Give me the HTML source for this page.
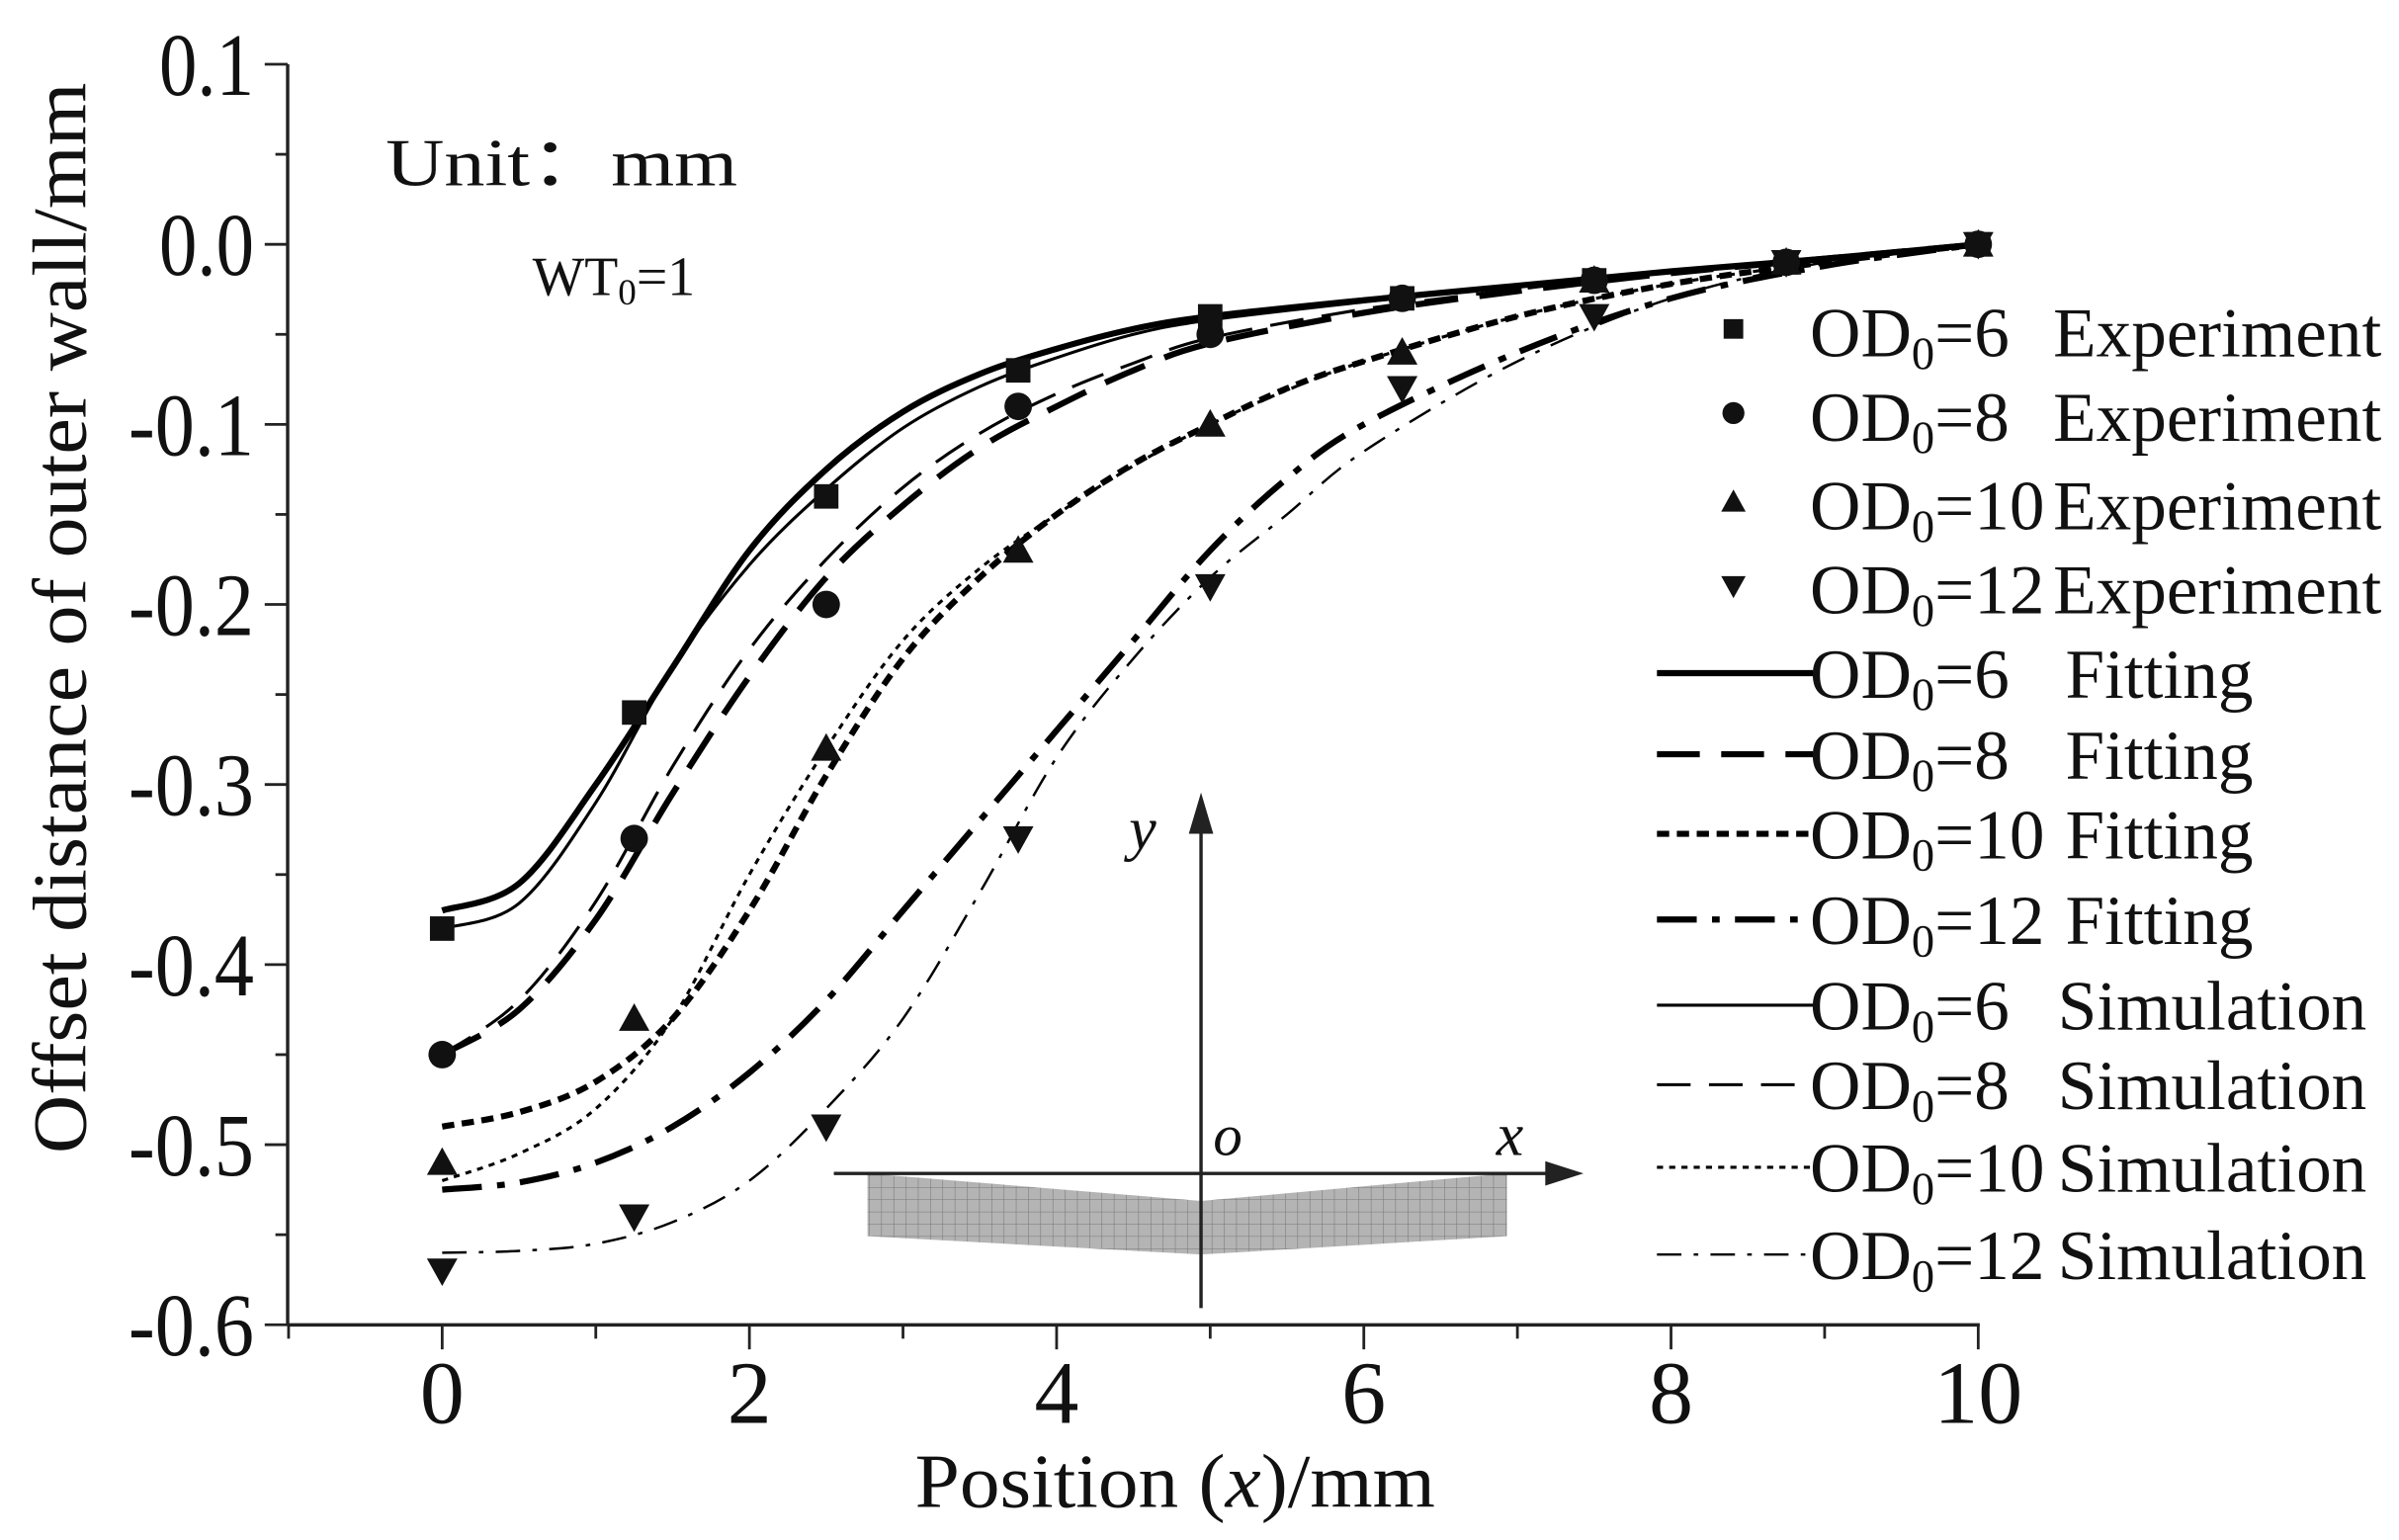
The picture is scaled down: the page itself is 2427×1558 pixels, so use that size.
<!DOCTYPE html>
<html><head><meta charset="utf-8"><style>html,body{margin:0;padding:0;background:#fff}svg{display:block}svg text{font-family:"Liberation Serif","Times New Roman",serif}</style></head>
<body>
<svg id="s" width="2427" height="1558" viewBox="0 0 1568 1006.6" xmlns="http://www.w3.org/2000/svg" fill="#111">
<defs>
<pattern id="mesh" width="8" height="8" patternUnits="userSpaceOnUse">
<rect width="8" height="8" fill="#b4b4b4"/><path d="M0 0H8M0 0V8" stroke="#777" stroke-width="0.7"/>
</pattern>
</defs>
<g id="axes" stroke="#222" stroke-width="2.2" fill="none">
<line x1="188" y1="42" x2="188" y2="866"/>
<line x1="188" y1="866" x2="1294" y2="866"/>
</g>
<g id="ticks" stroke="#222" stroke-width="1.8"></g>
<g font-size="58" id="ylab"></g>
<g font-size="58" id="xlab"></g>
<text x="0" y="0" font-size="50" transform="translate(56,404) rotate(-90)" text-anchor="middle" textLength="700" lengthAdjust="spacingAndGlyphs">Offset distance of outer wall/mm</text>
<text x="768" y="985" font-size="50" text-anchor="middle" textLength="340" lengthAdjust="spacingAndGlyphs">Position (<tspan font-style="italic">x</tspan>)/mm</text>
<text x="252" y="121" font-size="44" textLength="230" lengthAdjust="spacingAndGlyphs">Unit：mm</text>
<text x="348" y="193" font-size="36">WT<tspan font-size="24" dy="6">0</tspan><tspan dy="-6">=1</tspan></text>
<path d="M567 767 L785 785 L985 767 L985 808 L785 820 L567 808 Z" fill="url(#mesh)"/>
<g stroke="#222" stroke-width="2.2">
<line x1="545" y1="767" x2="1015" y2="767"/>
<line x1="785" y1="855" x2="785" y2="540"/>
</g>
<path d="M1035 767 L1010 759 L1010 775 Z" fill="#222"/>
<path d="M785 518 L777 545 L793 545 Z" fill="#222"/>
<text x="738" y="555" font-size="40" font-style="italic">y</text>
<text x="793" y="755" font-size="38" font-style="italic">o</text>
<text x="978" y="755" font-size="40" font-style="italic">x</text>
<g id="curves" fill="none" stroke="#000"></g>
<g id="marks"></g>
<g id="legend" font-size="46"></g>
</svg>
<script>
const NS="http://www.w3.org/2000/svg";
const X=x=>289+100.4*x, Y=v=>159.7-v*1177;
function el(p,t,a,txt){const e=document.createElementNS(NS,t);for(const k in a)e.setAttribute(k,a[k]);if(txt!==undefined)e.textContent=txt;p.appendChild(e);return e;}
const tk=document.getElementById('ticks');
for(let i=0;i<=14;i++){const v=0.1-i*0.05,y=Y(v),maj=i%2==0;el(tk,'line',{x1:188-(maj?15:8),y1:y,x2:188,y2:y});}
for(let i=-1;i<=10;i++){const x=X(i),maj=i%2==0;el(tk,'line',{x1:x,y1:866,x2:x,y2:866+(maj?16:9)});}
const yl=document.getElementById('ylab');
['0.1','0.0','-0.1','-0.2','-0.3','-0.4','-0.5','-0.6'].forEach((t,i)=>{el(yl,'text',{x:166,y:Y(0.1-i*0.1)+20,'text-anchor':'end',textLength:t.length==3?62:82,lengthAdjust:'spacingAndGlyphs'},t);});
const xl=document.getElementById('xlab');
[0,2,4,6,8,10].forEach(v=>el(xl,'text',{x:X(v),y:930,'text-anchor':'middle'},String(v)));
function path(pts){const P=pts.map(p=>[X(p[0]),Y(p[1])]);let d='M'+P[0];for(let i=0;i<P.length-1;i++){const p0=P[i-1]||P[i],p1=P[i],p2=P[i+1],p3=P[i+2]||P[i+1];d+=` C${p1[0]+(p2[0]-p0[0])/6},${p1[1]+(p2[1]-p0[1])/6} ${p2[0]-(p3[0]-p1[0])/6},${p2[1]-(p3[1]-p1[1])/6} ${p2[0]},${p2[1]}`;}return d;}
const cv=document.getElementById('curves');
const series=[
[[[0,-0.37],[0.5,-0.355],[1,-0.30],[1.5,-0.235],[2,-0.17],[2.5,-0.125],[3,-0.093],[3.5,-0.072],[4,-0.058],[4.5,-0.047],[5,-0.04],[6,-0.031],[7,-0.023],[8,-0.015],[9,-0.008],[10,0]],4,''],
[[[0,-0.38],[0.5,-0.366],[1,-0.31],[1.5,-0.235],[2,-0.178],[2.5,-0.136],[3,-0.102],[3.5,-0.079],[4,-0.063],[4.5,-0.05],[5,-0.042],[6,-0.032],[7,-0.023],[8,-0.015],[9,-0.008],[10,0]],2,''],
[[[0,-0.45],[0.5,-0.425],[1,-0.375],[1.5,-0.305],[2,-0.24],[2.5,-0.185],[3,-0.145],[3.5,-0.113],[4,-0.09],[4.5,-0.07],[5,-0.055],[6,-0.038],[7,-0.026],[8,-0.016],[9,-0.008],[10,0]],4,'28 14'],
[[[0,-0.45],[0.5,-0.42],[1,-0.365],[1.5,-0.29],[2,-0.225],[2.5,-0.175],[3,-0.135],[3.5,-0.105],[4,-0.083],[4.5,-0.066],[5,-0.052],[6,-0.036],[7,-0.025],[8,-0.015],[9,-0.008],[10,0]],2,'22 12'],
[[[0,-0.49],[0.5,-0.482],[1,-0.465],[1.5,-0.43],[2,-0.37],[2.5,-0.295],[3,-0.23],[3.5,-0.185],[4,-0.15],[4.5,-0.122],[5,-0.1],[5.5,-0.08],[6,-0.065],[7,-0.04],[8,-0.022],[9,-0.01],[10,0]],4,'8 5'],
[[[0,-0.52],[0.5,-0.505],[1,-0.48],[1.5,-0.43],[2,-0.35],[2.5,-0.28],[3,-0.22],[3.5,-0.18],[4,-0.15],[4.5,-0.123],[5,-0.1],[5.5,-0.081],[6,-0.065],[7,-0.04],[8,-0.022],[9,-0.01],[10,0]],2,'4 4'],
[[[0,-0.525],[0.5,-0.521],[1,-0.51],[1.5,-0.49],[2,-0.46],[2.5,-0.42],[3,-0.37],[3.5,-0.32],[4,-0.27],[4.5,-0.22],[5,-0.17],[5.5,-0.13],[6,-0.1],[7,-0.06],[8,-0.03],[9,-0.012],[10,0]],4,'26 10 5 10'],
[[[0,-0.56],[0.5,-0.559],[1,-0.555],[1.5,-0.543],[2,-0.52],[2.5,-0.48],[3,-0.43],[3.5,-0.36],[4,-0.285],[4.5,-0.23],[5,-0.185],[5.5,-0.15],[6,-0.115],[7,-0.065],[8,-0.03],[9,-0.01],[10,0]],1.6,'16 8 3 8']];
series.forEach(s=>el(cv,'path',{d:path(s[0]),'stroke-width':s[1],'stroke-dasharray':s[2]}));
const mk=document.getElementById('marks');
function mark(t,x,y,r){r=r||10;if(t==0)el(mk,'rect',{x:x-r*0.8,y:y-r*0.8,width:r*1.6,height:r*1.6});else if(t==1)el(mk,'circle',{cx:x,cy:y,r:r*0.9});else if(t==2)el(mk,'path',{d:`M${x} ${y-r} L${x+r} ${y+r*0.8} L${x-r} ${y+r*0.8}Z`});else el(mk,'path',{d:`M${x} ${y+r} L${x+r} ${y-r*0.8} L${x-r} ${y-r*0.8}Z`});}
const xs=[0,1.25,2.5,3.75,5,6.25,7.5,8.75,10];
const exp=[[-0.38,-0.26,-0.14,-0.07,-0.04,-0.03,-0.02,-0.01,0],[-0.45,-0.33,-0.2,-0.09,-0.05,-0.03,-0.02,-0.01,0],[-0.51,-0.43,-0.28,-0.17,-0.1,-0.06,-0.02,-0.01,0],[-0.57,-0.54,-0.49,-0.33,-0.19,-0.08,-0.04,-0.01,0]];
exp.forEach((a,t)=>a.forEach((v,i)=>mark(t,X(xs[i]),Y(v))));
const lg=document.getElementById('legend');
const rows=[217,272,330,385,440,493,545,601,657,709,763,820];
const nums=['6','8','10','12'];
function lab(y,n,word,wx){const t=el(lg,'text',{x:1183,y:y+16});el(t,'tspan',{},'OD');el(t,'tspan',{'font-size':30,dy:8},'0');el(t,'tspan',{dy:-8},'='+n);el(lg,'text',{x:wx,y:y+16},word);}
for(let i=0;i<4;i++){mark(i,1133,rows[i]-2,8);lab(rows[i],nums[i],'Experiment',1342);}
const lstyle=[[4,''],[4,'28 14'],[4,'8 5'],[4,'26 10 5 10'],[2,''],[2,'22 12'],[2,'4 4'],[1.6,'16 8 3 8']];
for(let i=0;i<8;i++){const y=rows[4+i];el(cv,'line',{x1:1083,y1:y,x2:1185,y2:y,'stroke-width':lstyle[i][0],'stroke-dasharray':lstyle[i][1]});lab(y,nums[i%4],i<4?'Fitting':'Simulation',i<4?1350:1345);}
</script>
</body></html>
